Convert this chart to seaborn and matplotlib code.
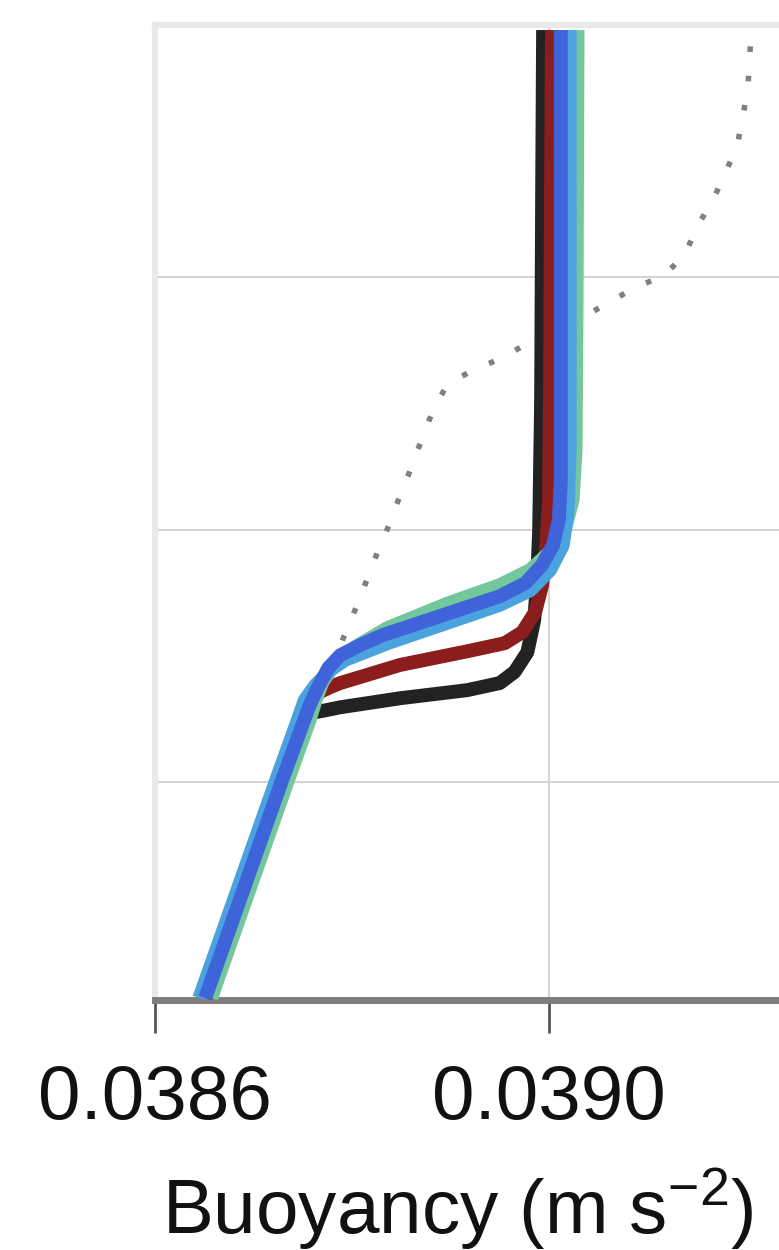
import matplotlib
matplotlib.use("Agg")
import matplotlib.pyplot as plt
import numpy as np
import pandas as pd
import seaborn as sns

# Buoyancy profiles (m s^-2) against depth (m) for five cases
case_names = ["case 1", "case 2", "case 3", "case 4", "case 5"]
case_colors = ["#222222", "#8c1d1d", "#74c69d", "#4aa3df", "#3f63d8"]

case1_b = [0.038651, 0.038728, 0.038751, 0.038759, 0.038773, 0.038788, 0.038849,
           0.038917, 0.038950, 0.038965, 0.038978, 0.038985, 0.038988, 0.038990,
           0.038992, 0.038993, 0.038994]
case1_z = [-192.8, -150.2, -137.7, -136.3, -135.8, -135.2, -133.4,
           -131.8, -130.4, -128.2, -124.3, -117.9, -110.0, -100.1,
           -74.3, -34.7, -1.0]

case2_b = [0.038651, 0.038728, 0.038751, 0.038758, 0.038765, 0.038778, 0.038788,
           0.038849, 0.038917, 0.038955, 0.038973, 0.038986, 0.038993, 0.038997,
           0.039000, 0.039001, 0.039002, 0.039003]
case2_z = [-192.8, -150.2, -137.7, -133.8, -132.4, -131.2, -130.4,
           -126.8, -124.1, -122.5, -120.3, -116.3, -111.0, -104.0,
           -94.1, -74.3, -34.7, -1.0]

case3_b = [0.038657, 0.038734, 0.038757, 0.038763, 0.038770, 0.038783, 0.038803,
           0.038836, 0.038899, 0.038950, 0.038981, 0.039001, 0.039016, 0.039024,
           0.039027, 0.039028, 0.039029]
case3_z = [-192.8, -150.2, -137.7, -133.8, -130.2, -126.4, -123.3,
           -119.5, -114.5, -111.0, -108.0, -104.4, -100.1, -94.1,
           -84.2, -54.5, -1.0]

case4_b = [0.038645, 0.038722, 0.038745, 0.038752, 0.038763, 0.038778, 0.038793,
           0.038836, 0.038899, 0.038950, 0.038981, 0.039001, 0.039014, 0.039019,
           0.039021, 0.039021, 0.039021]
case4_z = [-192.8, -150.2, -137.7, -133.8, -130.8, -127.8, -125.8,
           -122.5, -118.3, -114.9, -112.0, -108.0, -103.1, -96.1,
           -84.2, -54.5, -1.0]

case5_b = [0.038651, 0.038728, 0.038747, 0.038757, 0.038765, 0.038776, 0.038788,
           0.038808, 0.038831, 0.038899, 0.038950, 0.038976, 0.038993, 0.039004,
           0.039010, 0.039012, 0.039012, 0.039012]
case5_z = [-192.8, -150.2, -140.1, -134.8, -131.4, -127.4, -124.9,
           -122.9, -120.9, -116.5, -113.2, -110.6, -107.0, -103.1,
           -98.1, -90.2, -54.5, -1.0]

# Initial profile (dotted)
init_b = [0.038651, 0.038792, 0.038804, 0.038815, 0.038826, 0.038838, 0.038849,
          0.038860, 0.038871, 0.038882, 0.038897, 0.038923, 0.038952, 0.038979,
          0.039006, 0.039035, 0.039061, 0.039089, 0.039116, 0.039138, 0.039150,
          0.039166, 0.039179, 0.039191, 0.039197, 0.039202, 0.039204, 0.039205]
init_z = [-192.8, -121.1, -115.5, -110.0, -104.4, -98.9, -93.1,
          -87.8, -82.0, -76.5, -71.1, -68.4, -66.0, -63.0,
          -60.4, -57.9, -54.9, -51.9, -49.7, -45.6, -40.0,
          -34.9, -29.3, -24.0, -18.0, -12.1, -5.9, -1.0]

x_ticks = [0.0386, 0.0390]
x_tick_labels = ["0.0386", "0.0390"]
y_ticks = [0, -50, -100, -150]

profiles = [(case1_b, case1_z), (case2_b, case2_z), (case3_b, case3_z),
            (case4_b, case4_z), (case5_b, case5_z)]
df = pd.concat(
    [pd.DataFrame({"buoyancy": b, "depth": z, "case": name})
     for name, (b, z) in zip(case_names, profiles)],
    ignore_index=True,
)
init_df = pd.DataFrame({"buoyancy": init_b, "depth": init_z})

sns.set_theme(style="white")
plt.rcParams["font.family"] = ["Liberation Sans", "DejaVu Sans"]
plt.rcParams["mathtext.fontset"] = "custom"
plt.rcParams["mathtext.rm"] = "Liberation Sans"
plt.rcParams["mathtext.it"] = "Liberation Sans:italic"

fig = plt.figure(figsize=(7.79, 12.5), dpi=100)
ax = fig.add_axes([155 / 779, 0.2, (787 - 155) / 779, 0.78])

sns.lineplot(data=init_df, x="buoyancy", y="depth", sort=False, estimator=None,
             color="#808080", linewidth=4, linestyle=(0, (1, 4.3)),
             dash_capstyle="butt", ax=ax, zorder=2)

sns.lineplot(data=df, x="buoyancy", y="depth", hue="case", hue_order=case_names,
             palette=case_colors, sort=False, estimator=None, linewidth=10,
             legend=False, ax=ax, zorder=3,
             solid_joinstyle="round", solid_capstyle="butt")

ax.set_xlim(0.0386, 0.0386 + 632 * 0.0004 / 394)
ax.set_ylim(-193.2, 0)

ax.set_xticks(x_ticks)
ax.set_xticklabels(x_tick_labels)
ax.set_yticks(y_ticks)
ax.set_yticklabels([])
ax.tick_params(axis="y", length=0)
ax.tick_params(axis="x", direction="out", length=24, width=2, color="#555555",
               labelsize=55, pad=22, labelcolor="#111111", bottom=True)

ax.grid(True, color="#d4d4d4", linewidth=1.5)
ax.set_axisbelow(True)

for side in ("top", "left"):
    ax.spines[side].set_color("#e9e9e9")
    ax.spines[side].set_linewidth(4.5)
ax.spines["right"].set_visible(False)
ax.spines["bottom"].set_color("#7d7d7d")
ax.spines["bottom"].set_linewidth(5)

ax.set_ylabel("")
ax.set_xlabel(r"Buoyancy (m s$^{-2}$)", fontsize=55, color="#111111")
ax.xaxis.set_label_coords((458 - 155) / 632, -0.170)

fig.savefig("out.png", dpi=100)
